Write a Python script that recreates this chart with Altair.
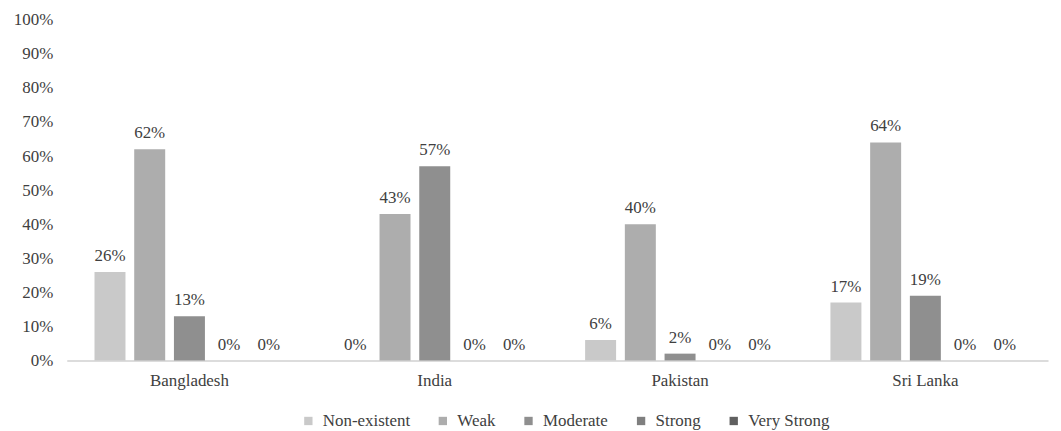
import altair as alt
import pandas as pd

countries = ["Bangladesh", "India", "Pakistan", "Sri Lanka"]
levels = ["Non-existent", "Weak", "Moderate", "Strong", "Very Strong"]
values = {
    "Bangladesh": [26, 62, 13, 0, 0],
    "India": [0, 43, 57, 0, 0],
    "Pakistan": [6, 40, 2, 0, 0],
    "Sri Lanka": [17, 64, 19, 0, 0],
}
colors = ["#c9c9c9", "#adadad", "#8f8f8f", "#7f7f7f", "#606060"]
y_ticks = [0.0, 0.1, 0.2, 0.3, 0.4, 0.5, 0.6, 0.7, 0.8, 0.9, 1.0]

rows = []
for c in countries:
    for lv, v in zip(levels, values[c]):
        rows.append({"country": c, "level": lv, "value": v / 100.0, "label": f"{v}%"})
df = pd.DataFrame(rows)

font = "Times New Roman"
txt = "#404040"
fs = 17

x = alt.X("country:N", sort=countries, title=None,
          scale=alt.Scale(paddingInner=0.226, paddingOuter=0.113),
          axis=alt.Axis(labelAngle=0, ticks=False, domainColor="#d0d0d0", domainWidth=1.5,
                        labelFont=font, labelFontSize=fs, labelColor=txt, labelPadding=12))
xo = alt.XOffset("level:N", sort=levels, scale=alt.Scale(paddingInner=0.22))
y = alt.Y("value:Q", title=None,
          scale=alt.Scale(domain=[0, 1]),
          axis=alt.Axis(format=".0%", values=y_ticks, tickCount=11, grid=False, domain=False,
                        ticks=False, labelOverlap=False, labelFont=font, labelFontSize=fs,
                        labelColor=txt, labelPadding=14))

base = alt.Chart(df).encode(x=x, xOffset=xo, y=y)

bars = base.mark_bar().encode(
    color=alt.Color("level:N", sort=levels, title=None,
                    scale=alt.Scale(domain=levels, range=colors),
                    legend=alt.Legend(orient="none", legendX=234, legendY=394, direction="horizontal",
                                      symbolType="square", symbolSize=70, symbolStrokeWidth=0,
                                      labelFont=font, labelFontSize=fs, labelColor=txt,
                                      labelOffset=6, columnPadding=24)),
)

labels = base.mark_text(dy=-11, baseline="alphabetic", font=font, fontSize=fs, color=txt).encode(
    text="label:N"
)

chart = (bars + labels).properties(
    width=985, height=342, padding={"left": 5, "top": 2, "right": 5, "bottom": 0}
).configure(font=font).configure_view(stroke=None)

chart.save("out.html", embed_options={"renderer": "svg", "actions": False})
